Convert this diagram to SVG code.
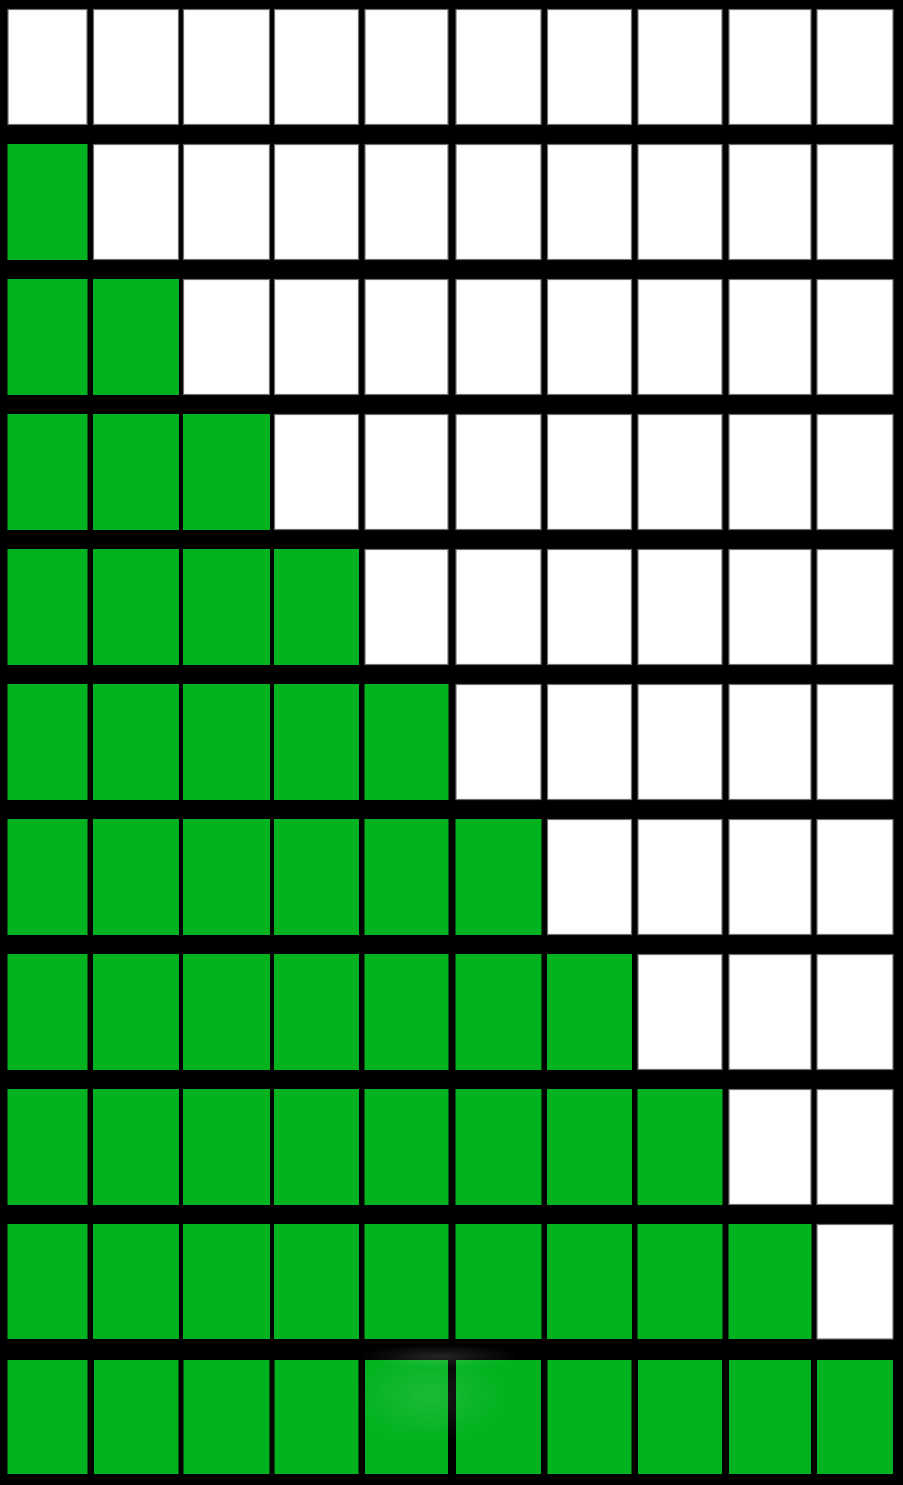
<svg xmlns="http://www.w3.org/2000/svg" width="903" height="1485" viewBox="0 0 903 1485">
<style>
.w{fill:#ffffff;stroke:#6e6e6e;stroke-width:1.2}
.g{fill:#02b31f}
</style>
<defs>
<radialGradient id="glow" cx="0.5" cy="0.5" r="0.5">
<stop offset="0" stop-color="#ffffff" stop-opacity="0.13"/>
<stop offset="1" stop-color="#ffffff" stop-opacity="0"/>
</radialGradient>
<radialGradient id="glare" cx="0.5" cy="0.5" r="0.5">
<stop offset="0" stop-color="#ffffff" stop-opacity="0.1"/>
<stop offset="1" stop-color="#ffffff" stop-opacity="0"/>
</radialGradient>
</defs>
<rect x="0" y="0" width="903" height="1485" fill="#000000"/>
<g id="row1">
<rect class="w" x="8" y="9.5" width="79" height="115"/><rect class="w" x="93.5" y="9.5" width="85" height="115"/><rect class="w" x="183.5" y="9.5" width="86" height="115"/><rect class="w" x="274.5" y="9.5" width="84" height="115"/><rect class="w" x="365" y="9.5" width="83" height="115"/><rect class="w" x="456" y="9.5" width="85" height="115"/><rect class="w" x="547.5" y="9.5" width="84" height="115"/><rect class="w" x="638" y="9.5" width="84" height="115"/><rect class="w" x="729" y="9.5" width="82" height="115"/><rect class="w" x="817" y="9.5" width="76" height="115"/>
</g>
<g id="row2">
<rect class="g" x="7.5" y="144" width="80" height="116"/><rect class="w" x="93.5" y="144.5" width="85" height="115"/><rect class="w" x="183.5" y="144.5" width="86" height="115"/><rect class="w" x="274.5" y="144.5" width="84" height="115"/><rect class="w" x="365" y="144.5" width="83" height="115"/><rect class="w" x="456" y="144.5" width="85" height="115"/><rect class="w" x="547.5" y="144.5" width="84" height="115"/><rect class="w" x="638" y="144.5" width="84" height="115"/><rect class="w" x="729" y="144.5" width="82" height="115"/><rect class="w" x="817" y="144.5" width="76" height="115"/>
</g>
<g id="row3">
<rect class="g" x="7.5" y="279" width="80" height="116"/><rect class="g" x="93" y="279" width="86" height="116"/><rect class="w" x="183.5" y="279.5" width="86" height="115"/><rect class="w" x="274.5" y="279.5" width="84" height="115"/><rect class="w" x="365" y="279.5" width="83" height="115"/><rect class="w" x="456" y="279.5" width="85" height="115"/><rect class="w" x="547.5" y="279.5" width="84" height="115"/><rect class="w" x="638" y="279.5" width="84" height="115"/><rect class="w" x="729" y="279.5" width="82" height="115"/><rect class="w" x="817" y="279.5" width="76" height="115"/>
</g>
<g id="row4">
<rect class="g" x="7.5" y="414" width="80" height="116"/><rect class="g" x="93" y="414" width="86" height="116"/><rect class="g" x="183" y="414" width="87" height="116"/><rect class="w" x="274.5" y="414.5" width="84" height="115"/><rect class="w" x="365" y="414.5" width="83" height="115"/><rect class="w" x="456" y="414.5" width="85" height="115"/><rect class="w" x="547.5" y="414.5" width="84" height="115"/><rect class="w" x="638" y="414.5" width="84" height="115"/><rect class="w" x="729" y="414.5" width="82" height="115"/><rect class="w" x="817" y="414.5" width="76" height="115"/>
</g>
<g id="row5">
<rect class="g" x="7.5" y="549" width="80" height="116"/><rect class="g" x="93" y="549" width="86" height="116"/><rect class="g" x="183" y="549" width="87" height="116"/><rect class="g" x="274" y="549" width="85" height="116"/><rect class="w" x="365" y="549.5" width="83" height="115"/><rect class="w" x="456" y="549.5" width="85" height="115"/><rect class="w" x="547.5" y="549.5" width="84" height="115"/><rect class="w" x="638" y="549.5" width="84" height="115"/><rect class="w" x="729" y="549.5" width="82" height="115"/><rect class="w" x="817" y="549.5" width="76" height="115"/>
</g>
<g id="row6">
<rect class="g" x="7.5" y="684" width="80" height="116"/><rect class="g" x="93" y="684" width="86" height="116"/><rect class="g" x="183" y="684" width="87" height="116"/><rect class="g" x="274" y="684" width="85" height="116"/><rect class="g" x="364.5" y="684" width="84" height="116"/><rect class="w" x="456" y="684.5" width="85" height="115"/><rect class="w" x="547.5" y="684.5" width="84" height="115"/><rect class="w" x="638" y="684.5" width="84" height="115"/><rect class="w" x="729" y="684.5" width="82" height="115"/><rect class="w" x="817" y="684.5" width="76" height="115"/>
</g>
<g id="row7">
<rect class="g" x="7.5" y="819" width="80" height="116"/><rect class="g" x="93" y="819" width="86" height="116"/><rect class="g" x="183" y="819" width="87" height="116"/><rect class="g" x="274" y="819" width="85" height="116"/><rect class="g" x="364.5" y="819" width="84" height="116"/><rect class="g" x="455.5" y="819" width="86" height="116"/><rect class="w" x="547.5" y="819.5" width="84" height="115"/><rect class="w" x="638" y="819.5" width="84" height="115"/><rect class="w" x="729" y="819.5" width="82" height="115"/><rect class="w" x="817" y="819.5" width="76" height="115"/>
</g>
<g id="row8">
<rect class="g" x="7.5" y="954" width="80" height="116"/><rect class="g" x="93" y="954" width="86" height="116"/><rect class="g" x="183" y="954" width="87" height="116"/><rect class="g" x="274" y="954" width="85" height="116"/><rect class="g" x="364.5" y="954" width="84" height="116"/><rect class="g" x="455.5" y="954" width="86" height="116"/><rect class="g" x="547" y="954" width="85" height="116"/><rect class="w" x="638" y="954.5" width="84" height="115"/><rect class="w" x="729" y="954.5" width="82" height="115"/><rect class="w" x="817" y="954.5" width="76" height="115"/>
</g>
<g id="row9">
<rect class="g" x="7.5" y="1089" width="80" height="116"/><rect class="g" x="93" y="1089" width="86" height="116"/><rect class="g" x="183" y="1089" width="87" height="116"/><rect class="g" x="274" y="1089" width="85" height="116"/><rect class="g" x="364.5" y="1089" width="84" height="116"/><rect class="g" x="455.5" y="1089" width="86" height="116"/><rect class="g" x="547" y="1089" width="85" height="116"/><rect class="g" x="637.5" y="1089" width="85" height="116"/><rect class="w" x="729" y="1089.5" width="82" height="115"/><rect class="w" x="817" y="1089.5" width="76" height="115"/>
</g>
<g id="row10">
<rect class="g" x="7.5" y="1224" width="80" height="115"/><rect class="g" x="93" y="1224" width="86" height="115"/><rect class="g" x="183" y="1224" width="87" height="115"/><rect class="g" x="274" y="1224" width="85" height="115"/><rect class="g" x="364.5" y="1224" width="84" height="115"/><rect class="g" x="455.5" y="1224" width="86" height="115"/><rect class="g" x="547" y="1224" width="85" height="115"/><rect class="g" x="637.5" y="1224" width="85" height="115"/><rect class="g" x="728.5" y="1224" width="83" height="115"/><rect class="w" x="817" y="1224.5" width="76" height="114.5"/>
</g>
<g id="row11">
<rect class="g" x="7.5" y="1360" width="80" height="114"/><rect class="g" x="94" y="1360" width="84.5" height="114"/><rect class="g" x="183.5" y="1360" width="86" height="114"/><rect class="g" x="274.5" y="1360" width="84" height="114"/><rect class="g" x="365" y="1360" width="83" height="114"/><rect class="g" x="456" y="1360" width="85" height="114"/><rect class="g" x="547.5" y="1360" width="84" height="114"/><rect class="g" x="638" y="1360" width="84" height="114"/><rect class="g" x="729" y="1360" width="82" height="114"/><rect class="g" x="817" y="1360" width="76" height="114"/>
</g>
<g id="glare">
<ellipse cx="440" cy="1356" rx="80" ry="12" fill="url(#glow)"/>
<ellipse cx="430" cy="1395" rx="75" ry="45" fill="url(#glare)"/>
</g>
</svg>
